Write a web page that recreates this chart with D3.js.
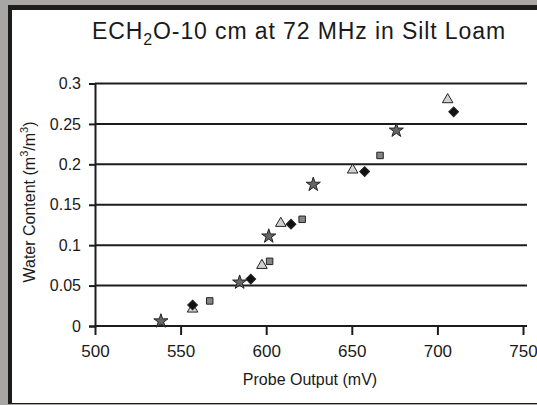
<!DOCTYPE html>
<html>
<head>
<meta charset="utf-8">
<script src="https://cdn.jsdelivr.net/npm/d3@7"></script>
<style>
  body { margin: 0; background: #a8a6a5; }
  svg { display: block; }
  text { font-family: "Liberation Sans", Arial, sans-serif; fill: #1a1a1a; }
</style>
</head>
<body>
<svg id="chart" width="537" height="405"></svg>
<script>
// data (probe output mV, water content m3/m3)
const triangles = [[557, 0.021], [597.5, 0.075], [608.5, 0.127], [650.5, 0.193], [706, 0.28]];
const diamonds = [[557, 0.026], [591, 0.058], [614.5, 0.126], [657.5, 0.191], [709.5, 0.265]];
const squares = [[567, 0.031], [602, 0.08], [621, 0.132], [666.5, 0.211]];
const stars = [[538.5, 0.006], [584.5, 0.054], [601.5, 0.111], [627.5, 0.175], [676, 0.242]];

const xTicks = [500, 550, 600, 650, 700, 750];
const yTicks = [0, 0.05, 0.1, 0.15, 0.2, 0.25, 0.3];

const svg = d3.select("#chart");

// frame
svg.append("rect").attr("x", 8).attr("y", 5).attr("width", 529).attr("height", 399).attr("fill", "#1c1c1c");
svg.append("rect").attr("x", 12).attr("y", 10).attr("width", 525).attr("height", 393).attr("fill", "#fff");

const x = d3.scaleLinear().domain([500, 750]).range([95, 523]);
const y = d3.scaleLinear().domain([0, 0.3]).range([326, 83.5]);

// horizontal grid
svg.append("g")
  .selectAll("line")
  .data(yTicks.filter(d => d > 0))
  .join("line")
  .attr("x1", 95).attr("x2", 527)
  .attr("y1", d => y(d)).attr("y2", d => y(d))
  .attr("stroke", "#1c1c1c").attr("stroke-width", 2);

// y axis
const yAxis = svg.append("g")
  .attr("transform", "translate(95,0)")
  .call(d3.axisLeft(y).tickValues(yTicks).tickSize(6).tickPadding(8).tickFormat(d3.format("")));
yAxis.select(".domain").attr("stroke", "#1c1c1c").attr("stroke-width", 2);
yAxis.selectAll(".tick line").attr("stroke", "#1c1c1c").attr("stroke-width", 2);
yAxis.selectAll("text").attr("font-size", 16).attr("fill", "#1a1a1a");

// x axis
const xAxis = svg.append("g")
  .attr("transform", "translate(0,326)")
  .call(d3.axisBottom(x).tickValues(xTicks).tickSize(9).tickPadding(10));
xAxis.select(".domain").attr("d", "M95,0H527").attr("stroke", "#1c1c1c").attr("stroke-width", 2);
xAxis.selectAll(".tick line").attr("stroke", "#1c1c1c").attr("stroke-width", 2);
xAxis.selectAll("text").attr("font-size", 17).attr("fill", "#1a1a1a");

// markers
function drawSeries(data, type, size, fill, rot) {
  svg.append("g")
    .selectAll("path")
    .data(data)
    .join("path")
    .attr("transform", d => `translate(${x(d[0])},${y(d[1])}) rotate(${rot || 0})`)
    .attr("d", d3.symbol(type, size))
    .attr("fill", fill)
    .attr("stroke", "#222")
    .attr("stroke-width", 1);
}
drawSeries(triangles, d3.symbolTriangle, 48, "#d2d2d2");
drawSeries(squares, d3.symbolSquare, 42, "#858585");
drawSeries(diamonds, d3.symbolSquare, 48, "#111", 45);
drawSeries(stars, d3.symbolStar, 62, "#666");

// title
const title = svg.append("text")
  .attr("x", 299).attr("y", 39)
  .attr("text-anchor", "middle")
  .attr("font-size", 23)
  .attr("letter-spacing", 0.9);
title.append("tspan").text("ECH");
title.append("tspan").attr("font-size", 16).attr("dy", 6).text("2");
title.append("tspan").attr("dy", -6).text("O-10 cm at 72 MHz in Silt Loam");

// axis titles
svg.append("text")
  .attr("x", 310).attr("y", 385)
  .attr("text-anchor", "middle")
  .attr("font-size", 16)
  .text("Probe Output (mV)");

const yt = svg.append("text")
  .attr("transform", "translate(35,202) rotate(-90)")
  .attr("text-anchor", "middle")
  .attr("font-size", 16);
yt.append("tspan").text("Water Content (m");
yt.append("tspan").attr("font-size", 11).attr("dy", -7).text("3");
yt.append("tspan").attr("dy", 7).text("/m");
yt.append("tspan").attr("font-size", 11).attr("dy", -7).text("3");
yt.append("tspan").attr("dy", 7).text(")");
</script>
</body>
</html>
